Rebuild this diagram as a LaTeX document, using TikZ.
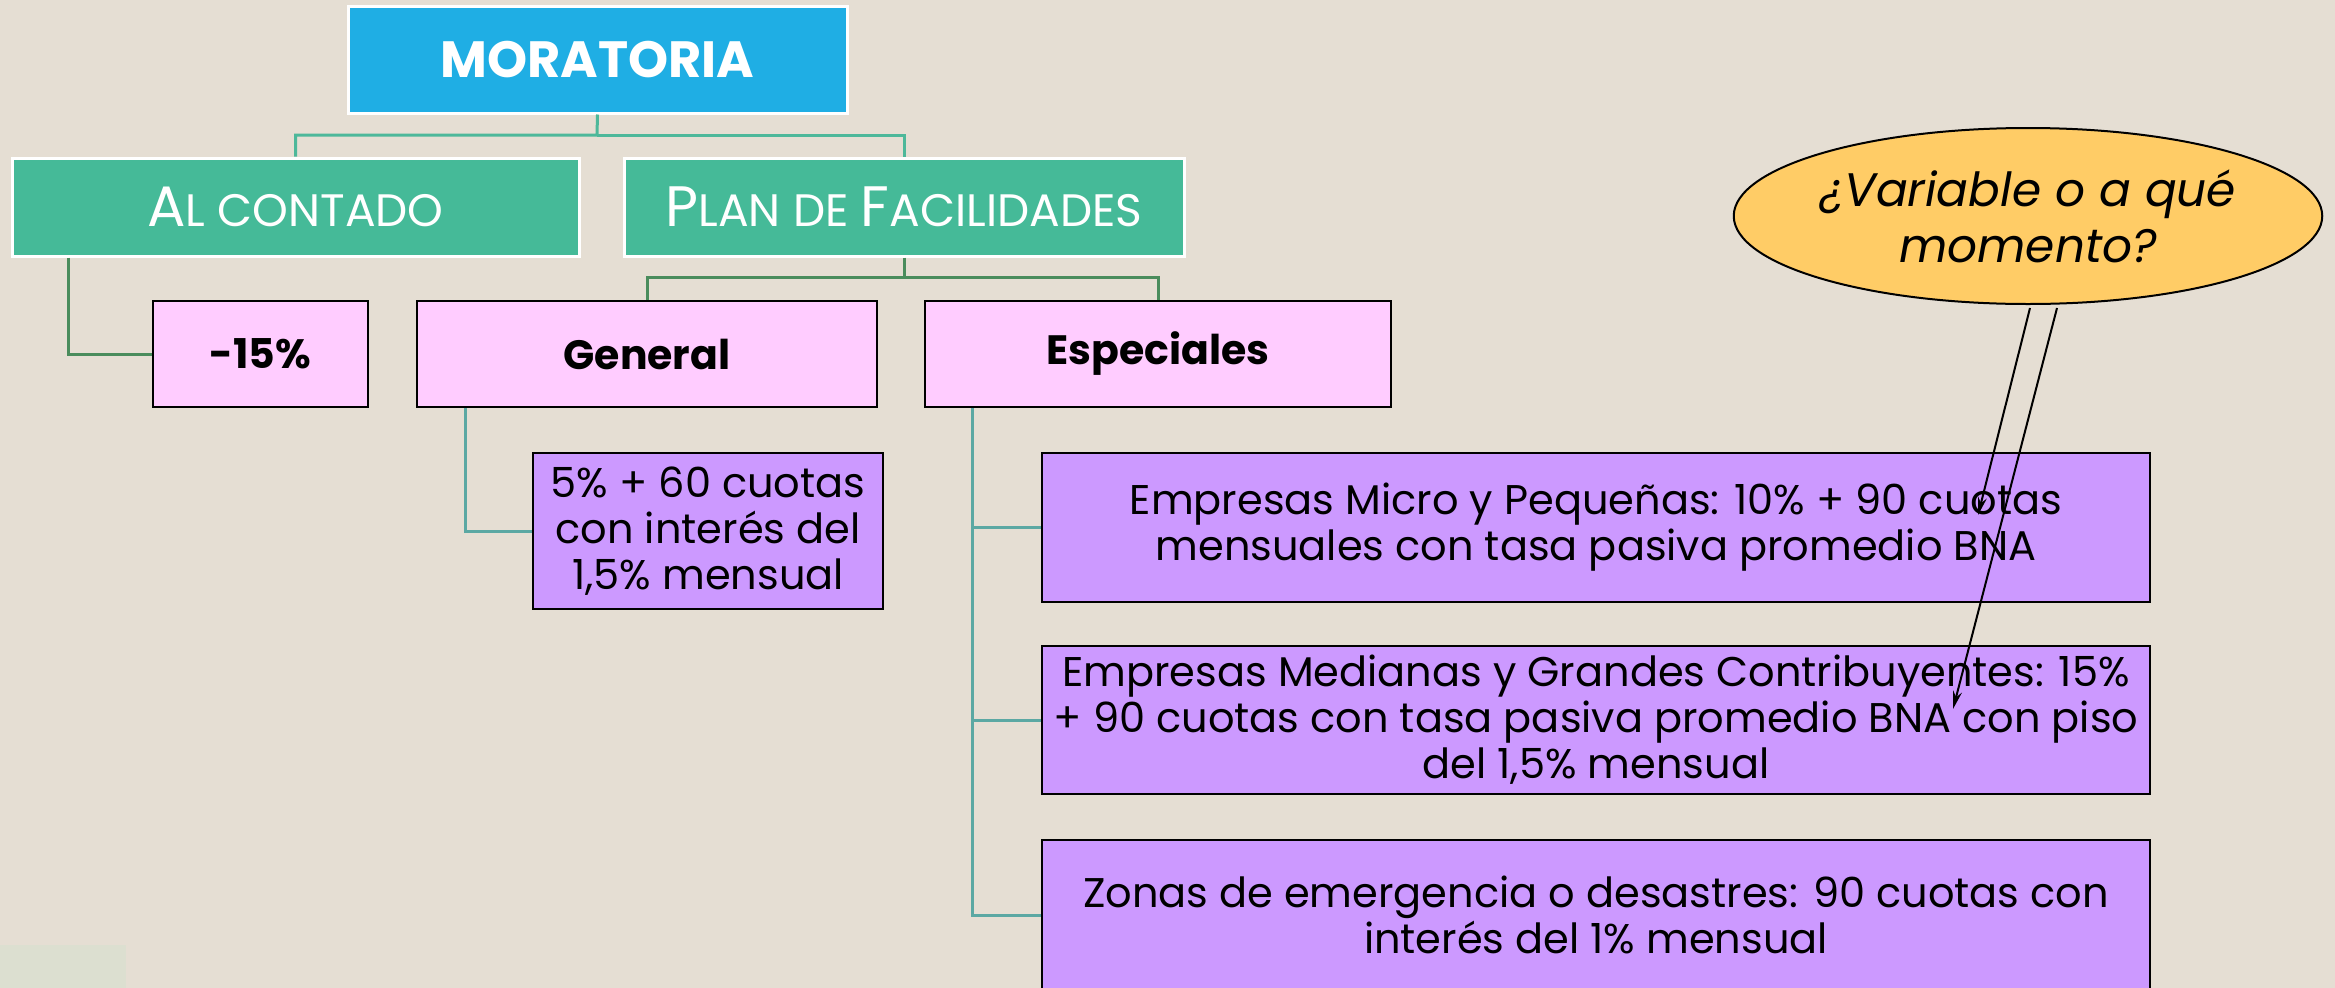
\documentclass[tikz,border=0pt]{standalone}
\usepackage{fontspec}
\setmainfont{Poppins}
\usetikzlibrary{arrows.meta,shapes.geometric}
\definecolor{bg}{HTML}{E5DED3}
\definecolor{bgl}{HTML}{DCDFD0}
\definecolor{blueb}{HTML}{1FAEE4}
\definecolor{greenb}{HTML}{45BA98}
\definecolor{pinkb}{HTML}{FFCCFF}
\definecolor{purpb}{HTML}{CC99FF}
\definecolor{yellb}{HTML}{FFCC66}
\definecolor{lgreen}{HTML}{4DB89A}
\definecolor{dgreen}{HTML}{4A8C5C}
\definecolor{teal}{HTML}{5BA8A3}
\tikzset{
  topbox/.style={rectangle, fill=blueb, draw=white, line width=3pt, text=white, inner sep=0pt},
  grbox/.style={rectangle, fill=greenb, draw=white, line width=3pt, text=white, inner sep=0pt},
  pkbox/.style={rectangle, fill=pinkb, draw=black, line width=2.5pt, text=black, inner sep=0pt, font=\fontsize{41}{46}\selectfont\bfseries},
  ppbox/.style={rectangle, fill=purpb, draw=black, line width=2.5pt, text=black, inner sep=0pt, align=center, font=\fontsize{41.5}{46}\selectfont},
  conA/.style={draw=lgreen, line width=3pt},
  conB/.style={draw=dgreen, line width=3pt},
  conC/.style={draw=teal, line width=3pt},
  callout/.style={draw=black, line width=2pt, -{Stealth[length=18pt,width=9pt]}},
}
\newcommand{\bigf}{\fontsize{57}{62}\selectfont}
\newcommand{\smf}{\fontsize{45.5}{50}\selectfont}
\begin{document}
\begin{tikzpicture}[x=1pt,y=-1pt]
\useasboundingbox (0,0) rectangle (2335,988);
\fill[bg] (0,0) rectangle (2335,988);
\fill[bgl] (0,945) rectangle (126,988);

\coordinate (j1) at (597,135);
\coordinate (j2) at (904,277);

\node[topbox, minimum width=499pt, minimum height=107pt, font=\fontsize{51}{56}\selectfont\bfseries] (mor) at (597.5,59.5)
  {MORATORIA};
\node[grbox, minimum width=567pt, minimum height=98pt] (alc) at (295.5,207)
  {{\bigf A}{\smf L CONTADO}};
\node[grbox, minimum width=560pt, minimum height=98pt] (plan) at (904,207)
  {{\bigf P}{\smf LAN DE }{\bigf F}{\smf ACILIDADES}};
\node[pkbox, minimum width=215pt, minimum height=106pt] (p15) at (260.5,354)
  {-15\%};
\node[pkbox, minimum width=460pt, minimum height=106pt] (gen) at (647,354)
  {General};
\node[pkbox, minimum width=466pt, minimum height=106pt] (esp) at (1158,354)
  {Especiales};
\node[ppbox, minimum width=350pt, minimum height=156pt] (g1) at (708,531)
  {5\% + 60 cuotas\\con interés del\\1,5\% mensual};
\node[ppbox, minimum width=1108pt, minimum height=149pt] (e1) at (1596,527.5)
  {Empresas Micro y Pequeñas: 10\% + 90 cuotas\\mensuales con tasa pasiva promedio BNA};
\node[ppbox, minimum width=1108pt, minimum height=148pt] (e2) at (1596,720)
  {Empresas Medianas y Grandes Contribuyentes: 15\%\\+ 90 cuotas con tasa pasiva promedio BNA con piso\\del 1,5\% mensual};
\node[ppbox, minimum width=1108pt, minimum height=150pt] (e3) at (1596,915)
  {Zonas de emergencia o desastres: 90 cuotas con\\interés del 1\% mensual};

\node[ellipse, fill=yellb, draw=black, line width=2pt, minimum width=566pt, minimum height=176pt, inner sep=0pt, align=center, font=\fontsize{47}{56}\selectfont\itshape] (ell) at (2028,216)
  {¿Variable o a qué\\momento?};

\draw[conA] (mor.south) -- (j1) -| (alc.north);
\draw[conA] (j1) -| (plan.north);
\draw[conB] (alc.south -| 68,0) |- (p15.west);
\draw[conB] (plan.south) -- (j2) -| (gen.north);
\draw[conB] (j2) -| (esp.north);
\draw[conC] (gen.south -| 465,0) |- (g1.west);
\draw[conC] (esp.south -| 972,0) |- (e3.west);
\draw[conC] (e1.west) -- (e1.west -| 972,0);
\draw[conC] (e2.west) -- (e2.west -| 972,0);

\coordinate (s1) at (2030,308);
\coordinate (s2) at (2057,308);
\coordinate (t1) at (1978,515);
\coordinate (t2) at (1953,709);
\draw[callout] (s1) -- (t1);
\draw[callout] (s2) -- (t2);
\end{tikzpicture}
\end{document}
